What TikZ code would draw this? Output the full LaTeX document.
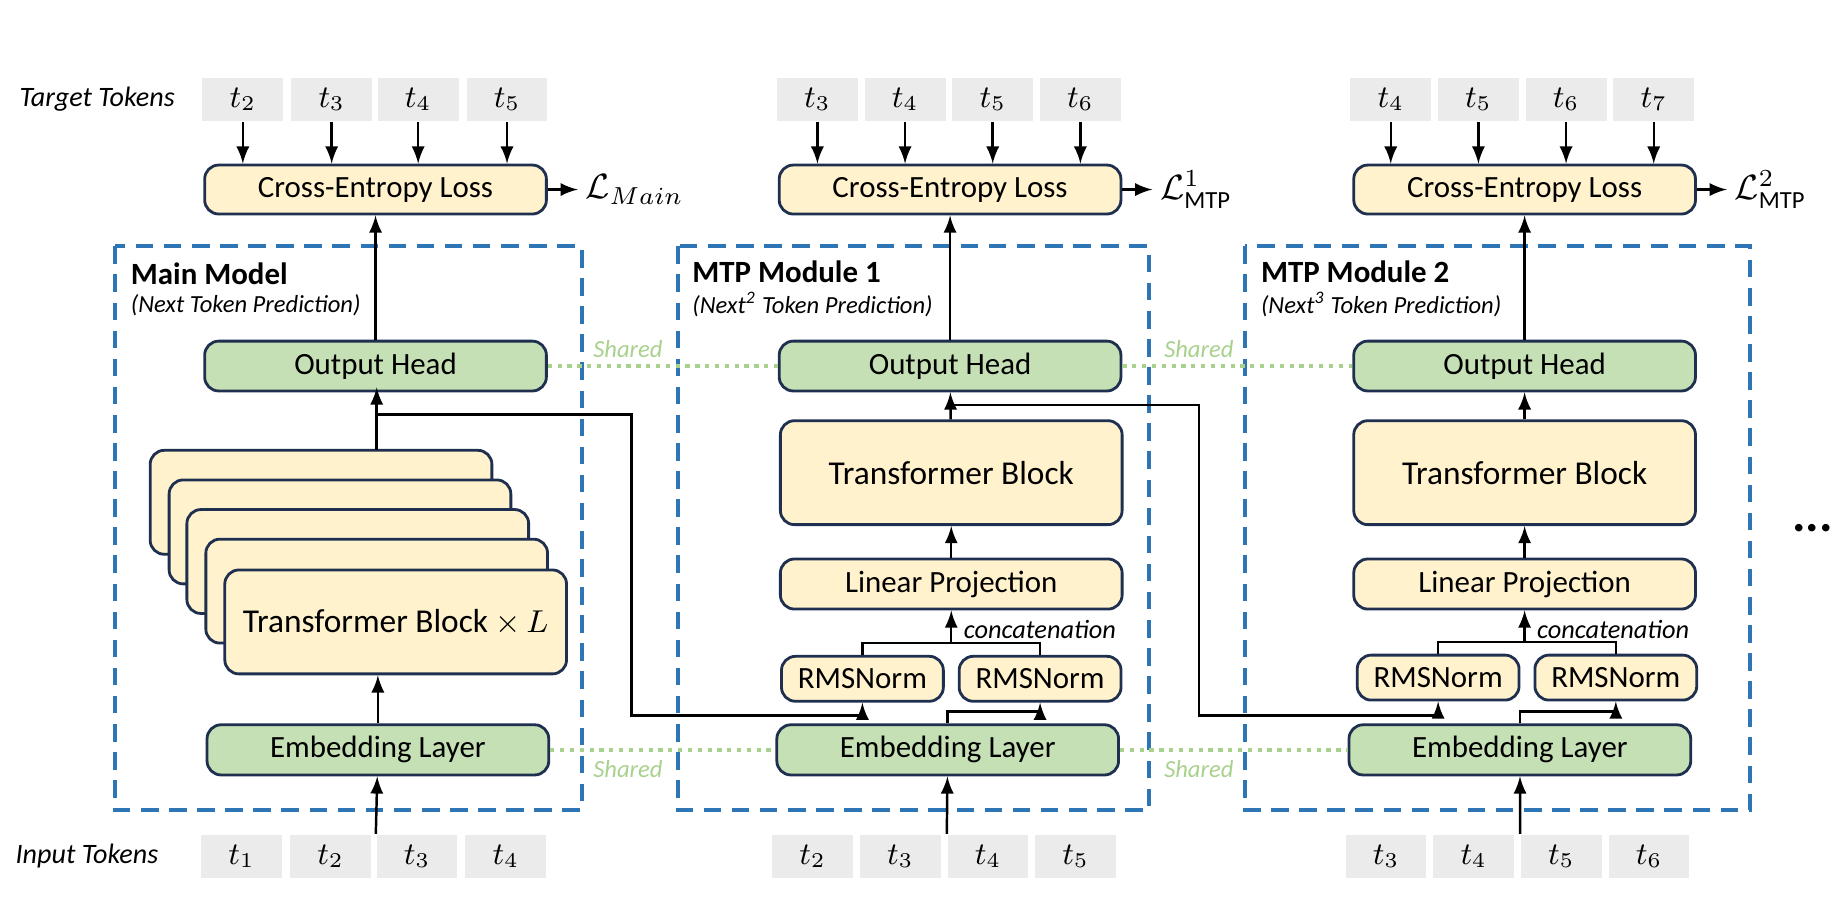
\documentclass[tikz,border=0pt]{standalone}
\usepackage{fontspec}
\setmainfont{Carlito}
\usetikzlibrary{positioning,calc}
\definecolor{boxyellow}{HTML}{FFF2CC}
\definecolor{boxgreen}{HTML}{C5E0B4}
\definecolor{boxline}{HTML}{1F2F4F}
\definecolor{modblue}{HTML}{2E75B6}
\definecolor{sharegreen}{HTML}{A9D18E}
\definecolor{tokgray}{HTML}{EBEBEB}
\tikzset{
  yellowbox/.style={draw=boxline, fill=boxyellow, rounded corners=4pt, line width=0.8pt, minimum width=3.42cm, minimum height=0.49cm, font=\fontsize{8.8}{10}\selectfont},
  greenbox/.style={yellowbox, fill=boxgreen, minimum height=0.44cm},
  token/.style={fill=tokgray, minimum width=0.81cm, minimum height=0.44cm, inner sep=0pt, font=\fontsize{9}{10}\selectfont},
  module/.style={draw=modblue, dashed, line width=1.1pt, dash pattern=on 5pt off 3pt},
  shared/.style={draw=sharegreen, line width=1.2pt, dash pattern=on 1.2pt off 1.6pt},
  sharedtxt/.style={text=sharegreen, font=\fontsize{7}{8}\selectfont\itshape},
  arr/.style={-latex, line width=0.7pt},
  conn/.style={line width=0.7pt}
}
\begin{document}
\begin{tikzpicture}[x=0.01185cm, y=-0.01185cm]
\useasboundingbox (0,0) rectangle (1560,760);
% labels on the left
\node[anchor=east, font=\fontsize{8}{9}\selectfont\itshape] (tgtlab) at (158,84) {Target Tokens};
\node[anchor=east, font=\fontsize{8}{9}\selectfont\itshape] (inlab) at (144,723) {Input Tokens};
% module frames
\draw[module] (97,208) rectangle (491,684);
\draw[module] (572,208) rectangle (970,684);
\draw[module] (1051,208) rectangle (1477,684);
\node[anchor=west, font=\fontsize{8.8}{10}\selectfont\bfseries] (t0) at (100,231) {Main Model};
\node[anchor=west, font=\fontsize{7}{8}\selectfont\itshape] (s0) at (100,258) {(Next Token Prediction)};
\node[anchor=west, font=\fontsize{8.8}{10}\selectfont\bfseries] (t1) at (574,229) {MTP Module 1};
\node[anchor=west, font=\fontsize{7}{8}\selectfont\itshape] (s1) at (574,257) {(Next\textsuperscript{2} Token Prediction)};
\node[anchor=west, font=\fontsize{8.8}{10}\selectfont\bfseries] (t2) at (1054,229) {MTP Module 2};
\node[anchor=west, font=\fontsize{7}{8}\selectfont\itshape] (s2) at (1054,257) {(Next\textsuperscript{3} Token Prediction)};
% token rows
\foreach \i/\x/\t in {1/205/2, 2/280/3, 3/353/4, 4/428/5} {
  \node[token] (ta\i) at (\x,84) {$t_{\t}$};
  \node[token] (ia\i) at (\x-1,723) {$t_{\the\numexpr\t-1\relax}$};
}
\foreach \i/\x/\t in {1/690/3, 2/764/4, 3/838/5, 4/912/6} {
  \node[token] (tb\i) at (\x,84) {$t_{\t}$};
  \node[token] (ib\i) at (\x-4,723) {$t_{\the\numexpr\t-1\relax}$};
}
\foreach \i/\x/\t in {1/1174/4, 2/1248/5, 3/1322/6, 4/1396/7} {
  \node[token] (tc\i) at (\x,84) {$t_{\t}$};
  \node[token] (ic\i) at (\x-4,723) {$t_{\the\numexpr\t-1\relax}$};
}
% loss boxes
\node[yellowbox] (cea) at (317,160) {Cross-Entropy Loss};
\node[yellowbox] (ceb) at (802,160) {Cross-Entropy Loss};
\node[yellowbox] (cec) at (1287,160) {Cross-Entropy Loss};
\foreach \i in {1,...,4} {
  \draw[arr] (ta\i) -- (ta\i |- cea.north);
  \draw[arr] (tb\i) -- (tb\i |- ceb.north);
  \draw[arr] (tc\i) -- (tc\i |- cec.north);
}
\node[right=0.3cm of cea, inner sep=2pt] (la) {$\mathcal{L}_{Main}$};
\node[right=0.3cm of ceb, inner sep=2pt] (lb) {$\mathcal{L}^{1}_{\mathrm{MTP}}$};
\node[right=0.3cm of cec, inner sep=2pt] (lc) {$\mathcal{L}^{2}_{\mathrm{MTP}}$};
\draw[arr] (cea) -- (la);
\draw[arr] (ceb) -- (lb);
\draw[arr] (cec) -- (lc);
% output heads
\node[greenbox] (oha) at (317,309) {Output Head};
\node[greenbox] (ohb) at (802,309) {Output Head};
\node[greenbox] (ohc) at (1287,309) {Output Head};
\draw[arr] (oha) -- (cea);
\draw[arr] (ohb) -- (ceb);
\draw[arr] (ohc) -- (cec);
% main model stack
\foreach \k/\dx/\dy in {1/0/0, 2/16/25, 3/31/50, 4/47/75} {
  \node[yellowbox, minimum height=1.04cm] (stack\k) at (271+\dx,424+\dy) {};
}
\node[yellowbox, minimum height=1.04cm, font=\fontsize{9.5}{11}\selectfont] (tba) at (334,525) {Transformer Block $\times\, L$};
\node[greenbox] (ema) at (319,633) {Embedding Layer};
\draw[arr] (ema) -- (ema |- tba.south);
\draw[arr] (318,380) -- (318,327);
% module 1 and 2 blocks
\node[yellowbox, minimum height=1.04cm, font=\fontsize{9.5}{11}\selectfont] (tbb) at (803,399) {Transformer Block};
\node[yellowbox, minimum height=0.45cm] (lpb) at (803,493) {Linear Projection};
\node[yellowbox, minimum width=1.62cm, minimum height=0.45cm] (rlb) at (728,573) {RMSNorm};
\node[yellowbox, minimum width=1.62cm, minimum height=0.45cm] (rrb) at (878,573) {RMSNorm};
\node[greenbox] (emb) at (800,633) {Embedding Layer};
\node[yellowbox, minimum height=1.04cm, font=\fontsize{9.5}{11}\selectfont] (tbc) at (1287,399) {Transformer Block};
\node[yellowbox, minimum height=0.45cm] (lpc) at (1287,493) {Linear Projection};
\node[yellowbox, minimum width=1.62cm, minimum height=0.45cm] (rlc) at (1214,572) {RMSNorm};
\node[yellowbox, minimum width=1.62cm, minimum height=0.45cm] (rrc) at (1364,572) {RMSNorm};
\node[greenbox] (emc) at (1283,633) {Embedding Layer};
\foreach \m in {b,c} {
  \draw[arr] (tb\m) -- (oh\m);
  \draw[arr] (lp\m) -- (tb\m);
  \draw[conn] (rl\m.north) |- ++(0,-10) -| (rr\m.north);
  \draw[arr] (lp\m.south |- rl\m.north) ++(0,-10) -- (lp\m.south);
  \node[anchor=west, font=\fontsize{7.5}{8}\selectfont\itshape, inner sep=1pt] at ($(lp\m.south)+(7,16)$) {concatenation};
  \draw[arr] (em\m.north) -- ++(0,-10) -| (rr\m.south);
}
% hidden state links
\draw[arr] (318,350) -- (533,350) -- (533,604) -| (rlb.south);
\draw[arr] (804,342) -- (1012,342) -- (1012,604) -| (rlc.south);
% shared weights
\draw[shared] (oha) -- (ohb);
\draw[shared] (ohb) -- (ohc);
\draw[shared] (ema) -- (emb);
\draw[shared] (emb) -- (emc);
\node[sharedtxt] (sh1) at (530,295) {Shared};
\node[sharedtxt] (sh2) at (1012,295) {Shared};
\node[sharedtxt] (sh3) at (530,649) {Shared};
\node[sharedtxt] (sh4) at (1012,649) {Shared};
% inputs
\draw[arr] (ia3.north west) -- (ema);
\draw[arr] (ib3.north west) -- (emb);
\draw[arr] (ic3.north west) -- (emc);
\node[font=\Large\bfseries] (dots) at (1530,446) {...};
\end{tikzpicture}
\end{document}
